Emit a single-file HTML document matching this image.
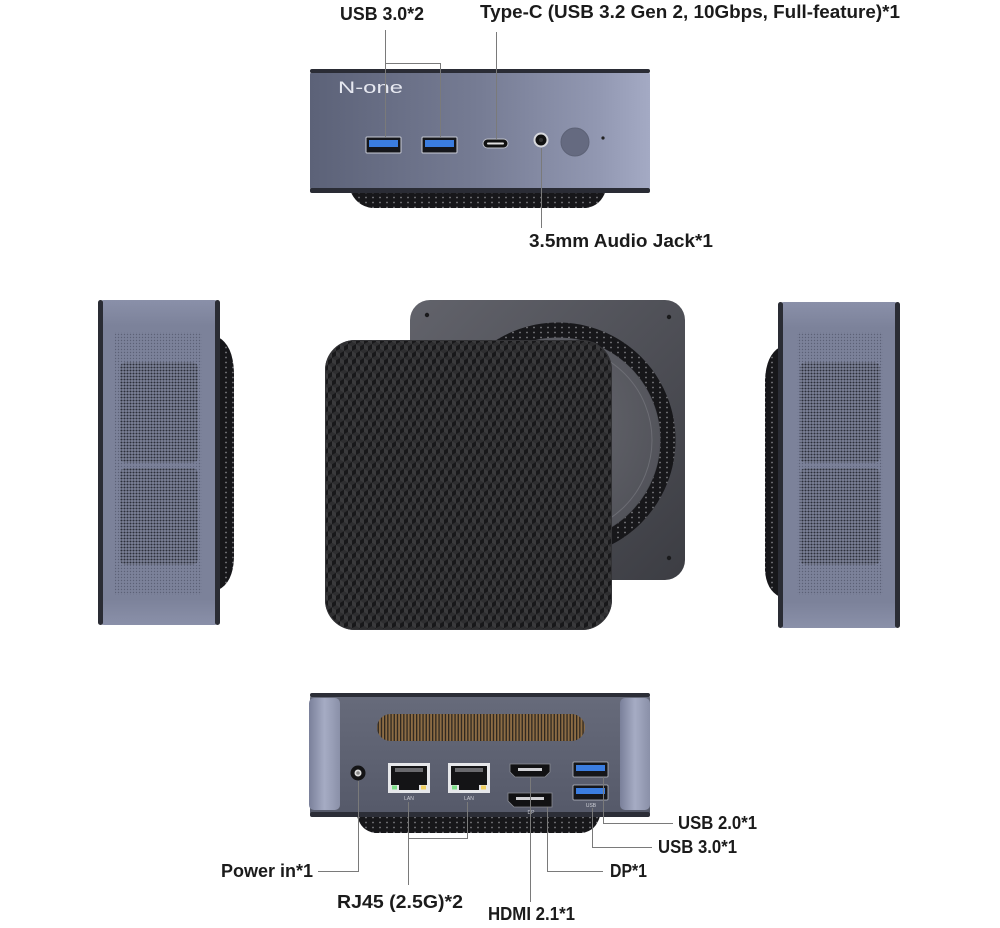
<!DOCTYPE html>
<html><head><meta charset="utf-8"><style>html,body{margin:0;padding:0;background:#fff}svg{display:block}</style></head>
<body>
<svg width="1000" height="928" viewBox="0 0 1000 928" xmlns="http://www.w3.org/2000/svg" xmlns:xlink="http://www.w3.org/1999/xlink">
<defs>
  <linearGradient id="gTop" x1="0" y1="0" x2="1" y2="0">
    <stop offset="0" stop-color="#5c6278"/>
    <stop offset="0.5" stop-color="#767c94"/>
    <stop offset="0.85" stop-color="#9298b2"/>
    <stop offset="1" stop-color="#a4aac4"/>
  </linearGradient>
  <linearGradient id="gSide" x1="0" y1="0" x2="0" y2="1">
    <stop offset="0" stop-color="#8a90a9"/>
    <stop offset="0.08" stop-color="#7c829a"/>
    <stop offset="0.92" stop-color="#7c829a"/>
    <stop offset="1" stop-color="#8a90a9"/>
  </linearGradient>
  <linearGradient id="gBot" x1="0" y1="0" x2="0" y2="1">
    <stop offset="0" stop-color="#676b7b"/>
    <stop offset="1" stop-color="#555969"/>
  </linearGradient>
  <linearGradient id="gPanel" x1="0" y1="0" x2="1" y2="0">
    <stop offset="0" stop-color="#7a809a"/>
    <stop offset="0.5" stop-color="#a6acc4"/>
    <stop offset="1" stop-color="#8a90a8"/>
  </linearGradient>
  <linearGradient id="gBack" x1="0" y1="0" x2="1" y2="1">
    <stop offset="0" stop-color="#62636b"/>
    <stop offset="1" stop-color="#3c3d43"/>
  </linearGradient>
  <radialGradient id="gDisc" cx="0.4" cy="0.4" r="0.7">
    <stop offset="0" stop-color="#6a6b72"/>
    <stop offset="1" stop-color="#505158"/>
  </radialGradient>
  <pattern id="footdots" width="7" height="5" patternUnits="userSpaceOnUse">
    <rect width="7" height="5" fill="#17171a"/>
    <circle cx="2" cy="2.5" r="0.9" fill="#7a7a7e"/>
  </pattern>
  <pattern id="mesh" width="3" height="3" patternUnits="userSpaceOnUse">
    <circle cx="1.5" cy="1.5" r="0.7" fill="#5c6176"/>
  </pattern>
  <pattern id="meshwin" width="3" height="3" patternUnits="userSpaceOnUse">
    <rect width="3" height="3" fill="#7d8399"/>
    <circle cx="1.5" cy="1.5" r="1.05" fill="#2c2f3a"/>
  </pattern>
  <pattern id="vent" width="3.2" height="40" patternUnits="userSpaceOnUse">
    <rect width="3.2" height="40" fill="#8c6c44"/>
    <rect width="1.3" height="40" fill="#2e2720"/>
  </pattern>
  <g id="cube">
    <polygon points="0,-4.62 4,-2.31 0,0 -4,-2.31" fill="#2e2e30"/>
    <polygon points="-4,-2.31 0,0 0,4.62 -4,2.31" fill="#3a3a3c"/>
    <polygon points="0,0 4,-2.31 4,2.31 0,4.62" fill="#18181a"/>
  </g>
  <pattern id="hex" width="8" height="13.86" patternUnits="userSpaceOnUse">
    <rect width="8" height="13.86" fill="#222224"/>
    <use xlink:href="#cube" x="0" y="0"/>
    <use xlink:href="#cube" x="8" y="0"/>
    <use xlink:href="#cube" x="4" y="6.93"/>
    <use xlink:href="#cube" x="0" y="13.86"/>
    <use xlink:href="#cube" x="8" y="13.86"/>
  </pattern>
</defs>

<!-- ============ TOP (front view) ============ -->
<path d="M350,190 L606,190 Q601,206 586,208 L372,208 Q356,206 350,190 Z" fill="url(#footdots)"/>
<rect x="310" y="69" width="340" height="124" rx="6" fill="url(#gTop)"/>
<rect x="310" y="69" width="340" height="4" rx="2" fill="#2a2c35"/>
<rect x="310" y="188" width="340" height="5" rx="2" fill="#2a2c35"/>
<text x="338" y="93" font-family="Liberation Sans, sans-serif" font-size="17" fill="#e6e8f0" textLength="65" lengthAdjust="spacingAndGlyphs">N-one</text>
<rect x="366" y="137" width="35" height="16" rx="1" fill="#15161a" stroke="#c9ccd6" stroke-width="1"/>
<rect x="369" y="140" width="29" height="7" fill="#3b7de0"/>
<rect x="422" y="137" width="35" height="16" rx="1" fill="#15161a" stroke="#c9ccd6" stroke-width="1"/>
<rect x="425" y="140" width="29" height="7" fill="#3b7de0"/>
<rect x="483" y="139" width="25" height="9" rx="4.5" fill="#111" stroke="#bfc2cc" stroke-width="1"/>
<rect x="487" y="142.5" width="17" height="2" rx="1" fill="#e0e0e0"/>
<circle cx="541" cy="140" r="7.5" fill="#d8d9de"/>
<circle cx="541" cy="140" r="5.5" fill="#111"/>
<circle cx="541" cy="140" r="2" fill="#333"/>
<circle cx="575" cy="142" r="14" fill="#656a80" stroke="#5d6276" stroke-width="1"/>
<circle cx="603" cy="138" r="1.6" fill="#222"/>

<g stroke="#7a7a7a" stroke-width="1" fill="none">
  <polyline points="385.5,30 385.5,137"/>
  <polyline points="385.5,63.5 440.5,63.5 440.5,137"/>
  <polyline points="496.5,32 496.5,139"/>
  <polyline points="541.5,148 541.5,228"/>
</g>

<!-- ============ MIDDLE LEFT (side view) ============ -->
<path d="M218,337 Q233,345 234,372 L234,558 Q233,583 218,590 Z" fill="url(#footdots)"/>
<rect x="98" y="300" width="122" height="325" rx="6" fill="url(#gSide)"/>
<rect x="98" y="300" width="5" height="325" rx="2.5" fill="#2a2c34"/>
<rect x="215" y="300" width="5" height="325" rx="2.5" fill="#2a2c34"/>
<rect x="115" y="332" width="87" height="263" fill="url(#mesh)"/>
<rect x="120" y="362" width="78" height="101" rx="6" fill="url(#meshwin)"/>
<rect x="120" y="468" width="78" height="97" rx="6" fill="url(#meshwin)"/>

<!-- ============ MIDDLE RIGHT (side view) ============ -->
<path d="M780,347 Q766,355 765,380 L765,570 Q766,590 780,597 Z" fill="url(#footdots)"/>
<rect x="778" y="302" width="122" height="326" rx="6" fill="url(#gSide)"/>
<rect x="778" y="302" width="5" height="326" rx="2.5" fill="#2a2c34"/>
<rect x="895" y="302" width="5" height="326" rx="2.5" fill="#2a2c34"/>
<rect x="797" y="332" width="86" height="263" fill="url(#mesh)"/>
<rect x="800" y="362" width="80" height="101" rx="6" fill="url(#meshwin)"/>
<rect x="800" y="468" width="80" height="97" rx="6" fill="url(#meshwin)"/>

<!-- ============ CENTER (bottom view) ============ -->
<rect x="410" y="300" width="275" height="280" rx="20" fill="url(#gBack)"/>
<circle cx="558" cy="440" r="110" fill="none" stroke="url(#footdots)" stroke-width="15"/>
<circle cx="558" cy="440" r="102" fill="url(#gDisc)"/>
<circle cx="558" cy="440" r="94" fill="none" stroke="#6c6d74" stroke-width="1"/>
<circle cx="427" cy="315" r="2.2" fill="#1a1a1c"/>
<circle cx="669" cy="317" r="2.2" fill="#1a1a1c"/>
<circle cx="669" cy="558" r="2.2" fill="#1a1a1c"/>
<rect x="325" y="340" width="287" height="290" rx="30" fill="url(#hex)"/>
<rect x="325.5" y="340.5" width="286" height="289" rx="30" fill="none" stroke="#333336" stroke-width="1"/>

<!-- ============ BOTTOM (rear view) ============ -->
<path d="M357,816 L600,816 Q596,831 582,833 L375,833 Q361,831 357,816 Z" fill="url(#footdots)"/>
<rect x="310" y="693" width="340" height="124" rx="5" fill="url(#gBot)"/>
<rect x="310" y="693" width="340" height="4" rx="2" fill="#2c2e37"/>
<rect x="310" y="812" width="340" height="5" rx="2" fill="#2c2e37"/>
<rect x="309" y="698" width="31" height="112" rx="5" fill="url(#gPanel)"/>
<rect x="620" y="698" width="30" height="112" rx="5" fill="url(#gPanel)"/>
<rect x="377" y="714" width="208" height="27" rx="13.5" fill="url(#vent)"/>
<circle cx="358" cy="773" r="7.5" fill="#141416"/>
<circle cx="358" cy="773" r="3.5" fill="#dcdcdc"/>
<circle cx="358" cy="773" r="1.8" fill="#888"/>
<rect x="388" y="763" width="42" height="30" fill="#e6e7ea"/>
<rect x="391" y="766" width="36" height="24" fill="#141416"/>
<rect x="395" y="768" width="28" height="4" fill="#6a6a6e"/>
<rect x="391" y="785" width="8" height="5" fill="#e6e7ea"/>
<rect x="419" y="785" width="8" height="5" fill="#e6e7ea"/>
<rect x="392" y="785.5" width="5" height="4" fill="#7fe08a"/>
<rect x="421" y="785.5" width="5" height="4" fill="#f0d060"/>
<text x="409" y="800" font-family="Liberation Sans, sans-serif" font-size="5" fill="#cfd1d8" text-anchor="middle">LAN</text>
<rect x="448" y="763" width="42" height="30" fill="#e6e7ea"/>
<rect x="451" y="766" width="36" height="24" fill="#141416"/>
<rect x="455" y="768" width="28" height="4" fill="#6a6a6e"/>
<rect x="451" y="785" width="8" height="5" fill="#e6e7ea"/>
<rect x="479" y="785" width="8" height="5" fill="#e6e7ea"/>
<rect x="452" y="785.5" width="5" height="4" fill="#7fe08a"/>
<rect x="481" y="785.5" width="5" height="4" fill="#f0d060"/>
<text x="469" y="800" font-family="Liberation Sans, sans-serif" font-size="5" fill="#cfd1d8" text-anchor="middle">LAN</text>
<path d="M510,764 L550,764 L550,772 L545,777 L515,777 L510,772 Z" fill="#111113" stroke="#8a8c94" stroke-width="0.8"/>
<rect x="518" y="768" width="24" height="3" fill="#d0d0d4"/>
<path d="M508,793 L552,793 L552,807 L514,807 L508,801 Z" fill="#111113" stroke="#8a8c94" stroke-width="0.8"/>
<rect x="516" y="797" width="28" height="3" fill="#d0d0d4"/>
<text x="531" y="814" font-family="Liberation Sans, sans-serif" font-size="5" fill="#cfd1d8" text-anchor="middle">DP</text>
<rect x="573" y="762" width="35" height="15" rx="1" fill="#15161a" stroke="#b9bcc6" stroke-width="0.8"/>
<rect x="576" y="765" width="29" height="6" fill="#3b7de0"/>
<rect x="573" y="785" width="35" height="15" rx="1" fill="#15161a" stroke="#b9bcc6" stroke-width="0.8"/>
<rect x="576" y="788" width="29" height="6" fill="#3b7de0"/>
<text x="591" y="807" font-family="Liberation Sans, sans-serif" font-size="5" fill="#cfd1d8" text-anchor="middle">USB</text>

<g stroke="#7a7a7a" stroke-width="1" fill="none">
  <polyline points="358.5,781 358.5,871.5 318,871.5"/>
  <polyline points="408.5,802 408.5,885"/>
  <polyline points="408.5,838.5 467.5,838.5 467.5,802"/>
  <polyline points="530.5,777 530.5,902"/>
  <polyline points="547.5,807 547.5,871.5 603,871.5"/>
  <polyline points="592.5,808 592.5,847.5 652,847.5"/>
  <polyline points="603.5,777 603.5,823.5 673,823.5"/>
</g>

<!-- ============ LABELS ============ -->
<g font-family="Liberation Sans, sans-serif" font-weight="bold" font-size="18" fill="#1b1b1b">
  <text x="340" y="20" textLength="84" lengthAdjust="spacingAndGlyphs">USB 3.0*2</text>
  <text x="480" y="18" textLength="420" lengthAdjust="spacingAndGlyphs">Type-C (USB 3.2 Gen 2, 10Gbps, Full-feature)*1</text>
  <text x="529" y="247" textLength="184" lengthAdjust="spacingAndGlyphs">3.5mm Audio Jack*1</text>
  <text x="221" y="877" textLength="92" lengthAdjust="spacingAndGlyphs">Power in*1</text>
  <text x="337" y="908" textLength="126" lengthAdjust="spacingAndGlyphs">RJ45 (2.5G)*2</text>
  <text x="488" y="920" textLength="87" lengthAdjust="spacingAndGlyphs">HDMI 2.1*1</text>
  <text x="610" y="877" textLength="37" lengthAdjust="spacingAndGlyphs">DP*1</text>
  <text x="658" y="853" textLength="79" lengthAdjust="spacingAndGlyphs">USB 3.0*1</text>
  <text x="678" y="829" textLength="79" lengthAdjust="spacingAndGlyphs">USB 2.0*1</text>
</g>
</svg>
</body></html>
